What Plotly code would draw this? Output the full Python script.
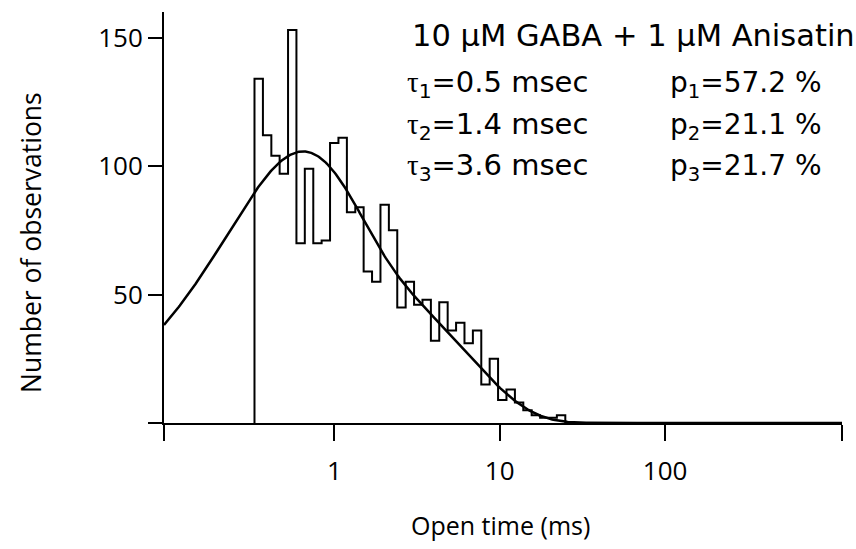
import numpy as np
import plotly.graph_objects as go

# Open-time histogram: log-spaced bin edges (ms) and event counts per bin
bin_edges = [0.329, 0.370, 0.416, 0.467, 0.525, 0.590, 0.663, 0.746, 0.838, 0.942,
             1.059, 1.191, 1.339, 1.504, 1.691, 1.901, 2.137, 2.402, 2.700, 3.035,
             3.412, 3.836, 4.311, 4.846, 5.448, 6.124, 6.884, 7.738, 8.698, 9.777,
             10.99, 12.36, 13.89, 15.61, 17.55, 19.72, 22.17, 24.93]
counts = [134, 112, 104, 97, 153, 70, 99, 70, 71, 109,
          111, 82, 84, 59, 55, 85, 75, 45, 55, 46,
          48, 32, 47, 36, 39, 31, 36, 15, 25, 9,
          13, 8, 5, 3, 2, 2, 3]

# Three-exponential fit (time constants in ms, relative areas)
taus = [0.5, 1.4, 3.6]
areas = [0.572, 0.211, 0.217]
fit_scale = 356.0

x_range_log = [-1.03, 3.07]
x_ticks = [1, 10, 100]
x_ticktext = ["1", "10", "100"]
x_end_ticks = [10 ** x_range_log[0], 10 ** x_range_log[1]]
y_ticks = [50, 100, 150]

FONT = "Open Sans"
NOTE_FONT = "DejaVu Sans"
SERIF = "Liberation Serif"

# Step outline of the histogram
hx = [bin_edges[0]] + list(bin_edges)
hy = [0] + list(counts) + [0]

# Fitted density on the log-binned (Sigworth-Sine) scale
t = np.logspace(x_range_log[0], x_range_log[1], 600)
fit = fit_scale * sum(a * (t / tau) * np.exp(-t / tau) for a, tau in zip(areas, taus))

fig = go.Figure()
fig.add_trace(go.Scatter(x=hx, y=hy, mode="lines", line=dict(color="black", width=2, shape="hv"),
                         hoverinfo="skip"))
fig.add_trace(go.Scatter(x=t, y=fit, mode="lines", line=dict(color="black", width=2.5),
                         hoverinfo="skip"))

axis_common = dict(showline=True, linecolor="black", linewidth=2, ticks="outside",
                   tickcolor="black", tickwidth=2, showgrid=False, zeroline=False,
                   tickfont=dict(family=FONT, size=26, color="black"))

fig.update_xaxes(type="log", range=x_range_log, tickvals=x_ticks, ticktext=x_ticktext,
                 ticklen=16, ticklabelstandoff=8,
                 minor=dict(tickmode="array", tickvals=x_end_ticks, ticks="outside",
                            ticklen=16, tickwidth=2, tickcolor="black", showgrid=False),
                 **axis_common)
fig.update_yaxes(range=[0, 160], tickvals=y_ticks, ticklen=14, ticklabelstandoff=0,
                 minor=dict(tickmode="array", tickvals=[0], ticks="outside",
                            ticklen=14, tickwidth=2, tickcolor="black", showgrid=False),
                 **axis_common)

L, R, T, B = 164, 14, 12, 126
W, H = 856, 549
pw, ph = W - L - R, H - T - B


def px(x, y):
    return (x - L) / pw, (H - B - y) / ph


def tau_text(i, val):
    return f'<span style="font-family:{SERIF}">τ</span><sub>{i}</sub>={val} msec'


def p_text(i, val):
    return f"p<sub>{i}</sub>={val} %"


notes = [
    (410, 35, "10 μM GABA + 1 μM Anisatin", 30.5),
    (405, 84, tau_text(1, taus[0]), 29),
    (405, 126, tau_text(2, taus[1]), 29),
    (405, 167, tau_text(3, taus[2]), 29),
    (668, 84, p_text(1, f"{areas[0]*100:.1f}"), 28),
    (668, 126, p_text(2, f"{areas[1]*100:.1f}"), 28),
    (668, 167, p_text(3, f"{areas[2]*100:.1f}"), 28),
]
for x, y, s, size in notes:
    xp, yp = px(x, y)
    fig.add_annotation(x=xp, y=yp, xref="paper", yref="paper", text=s, showarrow=False,
                       xanchor="left", yanchor="middle",
                       font=dict(family=NOTE_FONT, size=size, color="black"))

# Axis titles
xp, yp = px(500, 525)
fig.add_annotation(x=xp, y=yp, xref="paper", yref="paper", text="Open time (ms)",
                   showarrow=False, xanchor="center", yanchor="middle",
                   font=dict(family=FONT, size=25, color="black"))
xp, yp = px(31, 243)
fig.add_annotation(x=xp, y=yp, xref="paper", yref="paper", text="Number of observations",
                   showarrow=False, xanchor="center", yanchor="middle", textangle=-90,
                   font=dict(family=FONT, size=26.5, color="black"))

fig.update_layout(width=W, height=H, margin=dict(l=L, r=R, t=T, b=B),
                  paper_bgcolor="white", plot_bgcolor="white", showlegend=False)

fig.write_html("out.html")
